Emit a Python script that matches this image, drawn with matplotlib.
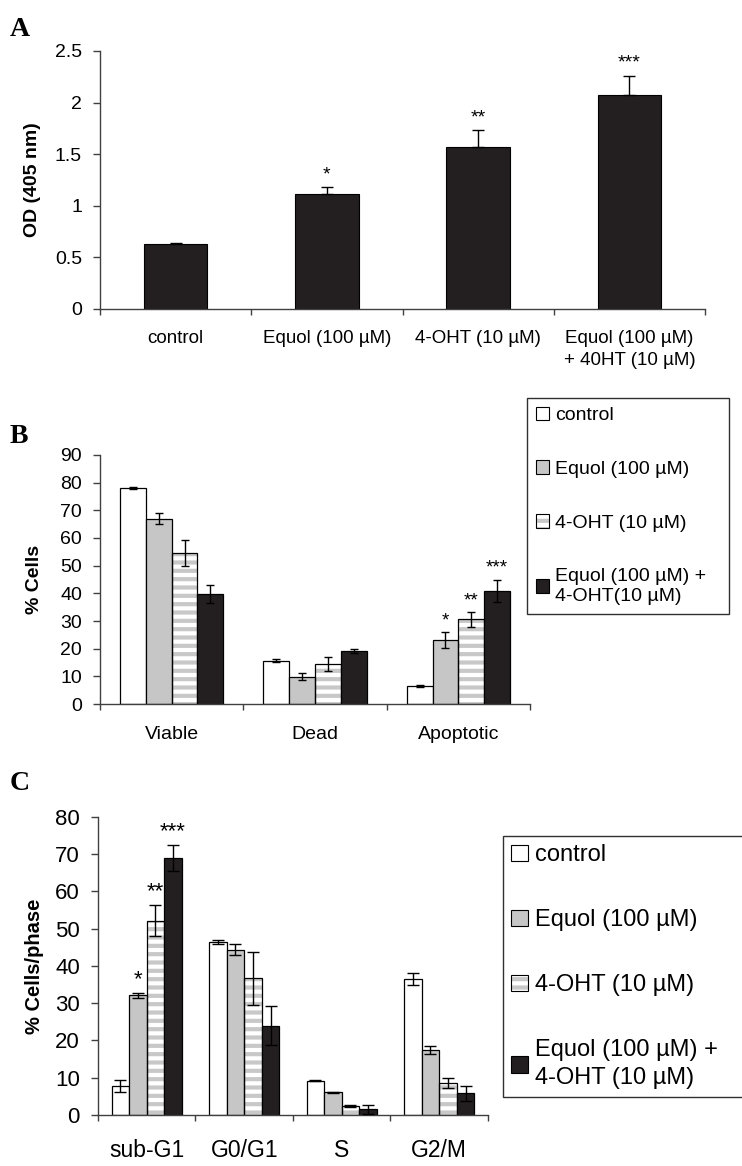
import numpy as np
import matplotlib
matplotlib.use("Agg")
import matplotlib.pyplot as plt
from matplotlib.patches import Patch
from matplotlib.legend_handler import HandlerTuple

plt.rcParams['font.family'] = ['Liberation Sans', 'DejaVu Sans']
plt.rcParams['hatch.linewidth'] = 3.0

# ---- data ----
# panel A
a_labels = ['control', 'Equol (100 µM)', '4-OHT (10 µM)', 'Equol (100 µM)\n+ 40HT (10 µM)']
a_od = [0.63, 1.11, 1.57, 2.07]
a_err = [0.01, 0.07, 0.16, 0.19]
a_stars = ['', '*', '**', '***']

# panel B
b_cats = ['Viable', 'Dead', 'Apoptotic']
b_control = [78.0, 15.7, 6.6]
b_control_err = [0.3, 0.6, 0.4]
b_equol = [67.0, 9.9, 23.1]
b_equol_err = [2.1, 1.2, 2.9]
b_oht = [54.5, 14.5, 30.6]
b_oht_err = [4.6, 2.4, 2.6]
b_combo = [39.7, 19.1, 40.9]
b_combo_err = [3.3, 0.7, 4.1]
b_stars = ['', '*', '**', '***']   # on Apoptotic group

# panel C
c_cats = ['sub-G1', 'G0/G1', 'S', 'G2/M']
c_control = [7.8, 46.4, 9.2, 36.5]
c_control_err = [1.5, 0.5, 0.2, 1.6]
c_equol = [32.1, 44.3, 6.1, 17.4]
c_equol_err = [0.6, 1.5, 0.2, 1.0]
c_oht = [52.1, 36.7, 2.5, 8.5]
c_oht_err = [4.1, 7.1, 0.3, 1.3]
c_combo = [69.0, 24.0, 1.5, 5.8]
c_combo_err = [3.5, 5.2, 1.1, 2.0]
c_stars = ['', '*', '**', '***']   # on sub-G1 group

leg_b = ['control', 'Equol (100 µM)', '4-OHT (10 µM)', 'Equol (100 µM) +\n4-OHT(10 µM)']
leg_c = ['control', 'Equol (100 µM)', '4-OHT (10 µM)', 'Equol (100 µM) +\n4-OHT (10 µM)']

BLACK = '#231f20'
GRAY = '#c6c6c6'
STRIPE = '#c8c8c8'
SPINE = '#404040'


def style_axes(ax, ncat, tick_fs, lab_pad):
    for s in ['top', 'right']:
        ax.spines[s].set_visible(False)
    for s in ['left', 'bottom']:
        ax.spines[s].set_color(SPINE)
        ax.spines[s].set_linewidth(1.0)
    ax.set_xlim(-0.5, ncat - 0.5)
    ax.tick_params(axis='y', direction='out', length=5, width=1, color=SPINE,
                   pad=8, labelsize=tick_fs)
    ax.set_xticks(np.arange(ncat))
    ax.tick_params(axis='x', which='major', length=0, pad=lab_pad)
    ax.set_xticks(np.arange(ncat + 1) - 0.5, minor=True)
    ax.tick_params(axis='x', which='minor', direction='out', length=4, width=1, color=SPINE)


def grouped(ax, cats, series, errs, capsize, stars, star_idx, star_fs, star_z=None):
    x = np.arange(len(cats))
    w = 0.18
    offs = [-1.5, -0.5, 0.5, 1.5]
    for i, (vals, err) in enumerate(zip(series, errs)):
        xp = x + offs[i] * w
        if i == 2:
            # striped bar: grey stripes on white, black outline on top
            ax.bar(xp, vals, w, color='white', edgecolor=STRIPE, hatch='--', linewidth=0, zorder=1)
            ax.bar(xp, vals, w, fill=False, edgecolor='black', linewidth=0.9, zorder=1.5)
        else:
            fc = ['white', GRAY, None, BLACK][i]
            ax.bar(xp, vals, w, color=fc, edgecolor='black', linewidth=0.9, zorder=1.5)
        ax.errorbar(xp, vals, yerr=err, fmt='none', ecolor='black', elinewidth=1,
                    capsize=capsize, capthick=1, zorder=3)
        if stars[i]:
            zz = 3 if star_z is None else star_z[i]
            ax.annotate(stars[i], (xp[star_idx], vals[star_idx] + err[star_idx]),
                        xytext=(0, 2), textcoords='offset points', ha='center', va='bottom',
                        fontsize=star_fs, zorder=zz)


fig = plt.figure(figsize=(7.42, 11.66), dpi=100)

# ---- A ----
axA = fig.add_axes([0.1348, 0.735, 0.8154, 0.2213])
xa = np.arange(len(a_od))
axA.bar(xa, a_od, 0.42, color=BLACK, edgecolor='black', linewidth=0.8, zorder=2)
axA.errorbar(xa, a_od, yerr=[np.zeros(len(a_err)), a_err], fmt='none', ecolor='black',
             elinewidth=1, capsize=4, capthick=1, zorder=3)
for xi, v, e, s in zip(xa, a_od, a_err, a_stars):
    if s:
        axA.annotate(s, (xi, v + e), xytext=(0, 3), textcoords='offset points',
                     ha='center', va='bottom', fontsize=14)
axA.set_ylim(0, 2.5)
axA.set_yticks([0, 0.5, 1, 1.5, 2, 2.5])
axA.set_yticklabels(['0', '0.5', '1', '1.5', '2', '2.5'])
style_axes(axA, 4, 14, 15)
axA.set_xticklabels(a_labels, fontsize=13.5, linespacing=1.4)
axA.set_ylabel('OD (405 nm)', fontsize=14, fontweight='bold', labelpad=10)

# ---- B ----
axB = fig.add_axes([0.1348, 0.3962, 0.5795, 0.2136])
grouped(axB, b_cats, [b_control, b_equol, b_oht, b_combo],
        [b_control_err, b_equol_err, b_oht_err, b_combo_err], 3, b_stars, 2, 13.5)
axB.set_ylim(0, 90)
axB.set_yticks(np.arange(0, 91, 10))
style_axes(axB, 3, 14, 16)
axB.set_xticklabels(b_cats, fontsize=14)
axB.set_ylabel('% Cells', fontsize=14, fontweight='bold', labelpad=12)

# ---- C ----
axC = fig.add_axes([0.132, 0.0437, 0.5256, 0.2559])
grouped(axC, c_cats, [c_control, c_equol, c_oht, c_combo],
        [c_control_err, c_equol_err, c_oht_err, c_combo_err], 4.5, c_stars, 0, 16,
        star_z=[3, 3, 0.5, 3])
axC.set_ylim(0, 80)
axC.set_yticks(np.arange(0, 81, 10))
style_axes(axC, 4, 16, 17)
axC.set_xticklabels(c_cats, fontsize=16.5)
axC.set_ylabel('% Cells/phase', fontsize=14.5, fontweight='bold', labelpad=8)


# ---- legends ----
def handles():
    h0 = Patch(facecolor='white', edgecolor='black', linewidth=0.8)
    h1 = Patch(facecolor=GRAY, edgecolor='black', linewidth=0.8)
    h2 = (Patch(facecolor='white', edgecolor=STRIPE, hatch='--', linewidth=0),
          Patch(fill=False, edgecolor='black', linewidth=0.8))
    h3 = Patch(facecolor=BLACK, edgecolor='black', linewidth=0.8)
    return [h0, h1, h2, h3]


legB = fig.legend(handles(), leg_b, loc='upper left',
                  bbox_to_anchor=(527 / 742, 1 - 398 / 1166 - 0.01, 202 / 742, 0.01), mode='expand',
                  fontsize=14, frameon=True, fancybox=False, framealpha=1, edgecolor='#303030',
                  handlelength=0.7, handleheight=0.7, handletextpad=0.3, labelspacing=1.85,
                  borderpad=0.45, borderaxespad=0, handler_map={tuple: HandlerTuple(ndivide=1)})
legB.get_frame().set_linewidth(1.0)
for t in legB.get_texts():
    t.set_linespacing(1.3)

legC = fig.legend(handles(), leg_c, loc='upper left',
                  bbox_to_anchor=(503 / 742, 1 - 836 / 1166 - 0.01, 260 / 742, 0.01), mode='expand',
                  fontsize=17, frameon=True, fancybox=False, framealpha=1, edgecolor='#303030',
                  handlelength=0.7, handleheight=0.7, handletextpad=0.3, labelspacing=1.82,
                  borderpad=0.35, borderaxespad=0, handler_map={tuple: HandlerTuple(ndivide=1)})
legC.get_frame().set_linewidth(1.0)
for t in legC.get_texts():
    t.set_linespacing(1.35)

# ---- panel letters ----
for lab, y in [('A', 1 - 30 / 1166), ('B', 1 - 437 / 1166), ('C', 1 - 783 / 1166)]:
    fig.text(10 / 742, y, lab, fontsize=20, fontweight='bold', family='Liberation Serif',
             va='center', ha='left')

fig.savefig('out.png', dpi=100)
